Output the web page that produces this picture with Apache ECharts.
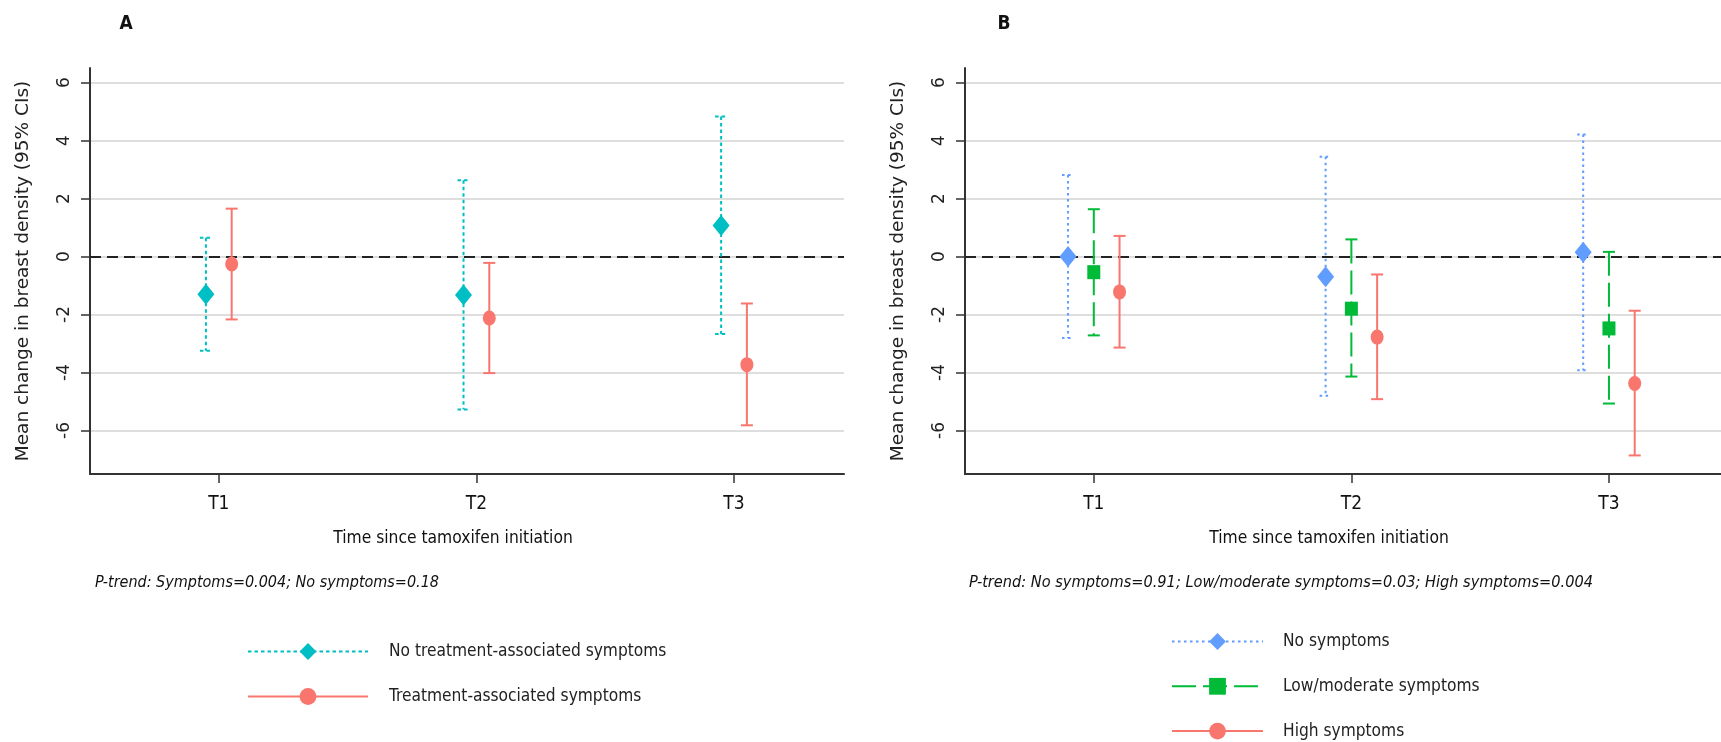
<!DOCTYPE html>
<html>
<head>
<meta charset="utf-8">
<script src="https://cdn.jsdelivr.net/npm/echarts@6/dist/echarts.min.js"></script>
<style>
  html, body { margin: 0; padding: 0; background: #fff; }
  #chart { width: 1721px; height: 742px; }
</style>
</head>
<body>
<div id="chart"></div>
<script>
// categories and tick labels
const categories = ['T1', 'T2', 'T3']
const yTicks = [-6, -4, -2, 0, 2, 4, 6]

// panel A: mean change and 95% CIs
const noTreatMean = [-1.30, -1.33, 1.07]
const noTreatLow = [-3.25, -5.28, -2.67]
const noTreatHigh = [0.65, 2.63, 4.83]
const treatMean = [-0.26, -2.12, -3.73]
const treatLow = [-2.17, -4.02, -5.82]
const treatHigh = [1.65, -0.22, -1.62]

// panel B
const noSymMean = [0.00, -0.70, 0.15]
const noSymLow = [-2.81, -4.80, -3.92]
const noSymHigh = [2.81, 3.44, 4.21]
const lowSymMean = [-0.54, -1.80, -2.48]
const lowSymLow = [-2.72, -4.14, -5.07]
const lowSymHigh = [1.63, 0.59, 0.16]
const highSymMean = [-1.22, -2.78, -4.38]
const highSymLow = [-3.14, -4.92, -6.86]
const highSymHigh = [0.71, -0.62, -1.87]

const narrow = '"DejaVu Sans Condensed", "Liberation Sans Narrow", Roboto, sans-serif'
const verdana = '"DejaVu Sans", Verdana, sans-serif'

const TEAL = '#00BFC4'
const RED = '#F8766D'
const BLUE = '#619CFF'
const GREEN = '#00BA38'

// 误差线（竖线 + 上下短横）
const errorBars = (name, idx, offset, low, high, color, dash) => ({
  type: 'custom',
  name,
  xAxisIndex: idx,
  yAxisIndex: idx,
  z: 8,
  silent: true,
  data: low.map((v, i) => [i + 1 + offset, v, high[i]]),
  renderItem: (params, api) => {
    const top = api.coord([api.value(0), api.value(2)])
    const bot = api.coord([api.value(0), api.value(1)])
    const style = { stroke: color, lineWidth: 2, lineDash: dash, fill: null }
    return {
      type: 'group',
      children: [
        { type: 'line', shape: { x1: top[0], y1: top[1], x2: bot[0], y2: bot[1] }, style },
        { type: 'line', shape: { x1: top[0] - 6, y1: top[1], x2: top[0] + 6, y2: top[1] }, style },
        { type: 'line', shape: { x1: bot[0] - 6, y1: bot[1], x2: bot[0] + 6, y2: bot[1] }, style },
      ],
    }
  },
})

// 均值点（线本身透明，只给图例用）
const points = (name, idx, offset, mean, color, symbol, size, dash) => ({
  type: 'line',
  name,
  xAxisIndex: idx,
  yAxisIndex: idx,
  z: 10,
  silent: true,
  symbol,
  symbolSize: size,
  showSymbol: true,
  itemStyle: { color, borderWidth: 0 },
  lineStyle: { color, width: 2, type: dash, opacity: 0 },
  data: mean.map((v, i) => [i + 1 + offset, v]),
})

const zeroLine = (idx) => ({
  type: 'line',
  xAxisIndex: idx,
  yAxisIndex: idx,
  data: [],
  silent: true,
  z: 5,
  markLine: {
    silent: true,
    symbol: 'none',
    label: { show: false },
    lineStyle: { color: '#222', width: 2, type: [11, 6] },
    data: [{ yAxis: 0 }],
  },
})

const makeX = (idx, max) => ({
  gridIndex: idx,
  type: 'value',
  min: 0.5,
  max,
  axisLine: { show: true, onZero: false, lineStyle: { color: '#333', width: 2 } },
  axisTick: { show: true, customValues: [1, 2, 3], length: 9, lineStyle: { color: '#333', width: 1.5 } },
  axisLabel: {
    customValues: [1, 2, 3],
    formatter: (v) => categories[Math.round(v) - 1],
    margin: 21,
    fontFamily: narrow,
    fontSize: 19,
    color: '#111',
  },
  splitLine: { show: false },
})

const makeY = (idx) => ({
  gridIndex: idx,
  type: 'value',
  min: -7.5,
  max: 6.5,
  splitNumber: 7,
  name: 'Mean change in breast density (95% CIs)',
  nameLocation: 'middle',
  nameGap: 57,
  nameTextStyle: { fontFamily: verdana, fontSize: 18.5, color: '#222' },
  axisLine: { show: true, onZero: false, lineStyle: { color: '#333', width: 2 } },
  axisTick: { show: true, customValues: yTicks, length: 9, lineStyle: { color: '#333', width: 1.5 } },
  axisLabel: { customValues: yTicks, rotate: 90, margin: 17, fontFamily: verdana, fontSize: 17, color: '#222' },
  splitLine: { show: true, showMinLine: true, showMaxLine: true, lineStyle: { color: '#dedede', width: 2 } },
})

const legendBase = {
  orient: 'vertical',
  selectedMode: false,
  padding: 0,
  height: 135,
  itemHeight: 21,
  itemGap: 28,
  lineStyle: { opacity: 1, width: 2 },
  textStyle: { fontFamily: narrow, fontSize: 17.2, color: '#222', padding: [0, 0, 0, 16] },
}

const text = (str, x, y, extra) => ({
  type: 'text',
  x,
  y,
  silent: true,
  style: Object.assign({ text: str, fill: '#111', fontFamily: narrow, fontSize: 17, align: 'center', verticalAlign: 'middle' }, extra),
})

const option = {
  animation: false,
  backgroundColor: '#fff',
  grid: [
    { left: 90, top: 68, width: 754, height: 406 },
    { left: 965, top: 68, width: 756, height: 406 },
  ],
  xAxis: [makeX(0, 3.427), makeX(1, 3.435)],
  yAxis: [makeY(0), makeY(1)],
  legend: [
    Object.assign({}, legendBase, {
      left: 247,
      top: 643,
      itemWidth: 120,
      data: ['No treatment-associated symptoms', 'Treatment-associated symptoms'],
    }),
    Object.assign({}, legendBase, {
      left: 1171,
      top: 633,
      itemWidth: 91,
      itemGap: 27.8,
      textStyle: Object.assign({}, legendBase.textStyle, { padding: [0, 0, 0, 15] }),
      data: ['No symptoms', 'Low/moderate symptoms', 'High symptoms'],
    }),
  ],
  graphic: [
    text('A', 126, 24, { fontWeight: 'bold', fontSize: 19 }),
    text('B', 1004, 24, { fontWeight: 'bold', fontSize: 19 }),
    text('Time since tamoxifen initiation', 453, 539, { fontSize: 17.3 }),
    text('Time since tamoxifen initiation', 1329, 539, { fontSize: 17.3 }),
    text('P-trend: Symptoms=0.004; No symptoms=0.18', 95, 583, { align: 'left', fontStyle: 'italic', fontSize: 16 }),
    text('P-trend: No symptoms=0.91; Low/moderate symptoms=0.03; High symptoms=0.004', 969, 583, { align: 'left', fontStyle: 'italic', fontSize: 16.2 }),
  ],
  series: [
    zeroLine(0),
    zeroLine(1),
    points('No treatment-associated symptoms', 0, -0.05, noTreatMean, TEAL, 'diamond', [17, 21], [3.5, 3]),
    points('Treatment-associated symptoms', 0, 0.05, treatMean, RED, 'circle', [13, 15], 'solid'),
    errorBars('No treatment-associated symptoms', 0, -0.05, noTreatLow, noTreatHigh, TEAL, [3.5, 3]),
    errorBars('Treatment-associated symptoms', 0, 0.05, treatLow, treatHigh, RED, null),
    points('No symptoms', 1, -0.1, noSymMean, BLUE, 'diamond', [17, 21], [2.5, 3.5]),
    points('Low/moderate symptoms', 1, 0, lowSymMean, GREEN, 'rect', [13, 14], [24, 7]),
    points('High symptoms', 1, 0.1, highSymMean, RED, 'circle', [13, 15], 'solid'),
    errorBars('No symptoms', 1, -0.1, noSymLow, noSymHigh, BLUE, [2.5, 3.5]),
    errorBars('Low/moderate symptoms', 1, 0, lowSymLow, lowSymHigh, GREEN, [24, 7]),
    errorBars('High symptoms', 1, 0.1, highSymLow, highSymHigh, RED, null),
  ],
}

const chart = echarts.init(document.getElementById('chart'))
chart.setOption(option)
window.addEventListener('resize', () => chart.resize())
</script>
</body>
</html>
